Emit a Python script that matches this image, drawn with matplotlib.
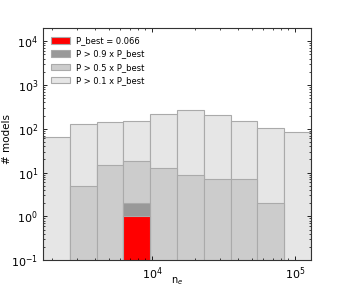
import numpy as np
import matplotlib
matplotlib.use("Agg")
import matplotlib.pyplot as plt

# bin edges in log10(n_e)
log_edges = np.linspace(3.238, 5.112, 11)

# counts per bin for each probability threshold
n_01 = [65, 130, 140, 152, 220, 263, 210, 152, 105, 85]
n_05 = [0, 5, 15, 18, 13, 9, 7, 7, 2, 0]
n_09 = [0, 0, 0, 2, 0, 0, 0, 0, 0, 0]
n_best = [0, 0, 0, 1, 0, 0, 0, 0, 0, 0]

labels = ["P_best = 0.066", "P > 0.9 x P_best", "P > 0.5 x P_best", "P > 0.1 x P_best"]

edges = 10 ** log_edges
left = edges[:-1]
width = np.diff(edges)

fig = plt.figure(figsize=(3.46, 2.89), dpi=100)
ax = fig.add_axes([0.124, 0.100, 0.775, 0.803])

bottom = 1e-3
kw = dict(align="edge", linewidth=0.8, edgecolor="#aaaaaa", bottom=bottom)
h3 = ax.bar(left, np.array(n_01) - bottom, width, color="#e6e6e6", label=labels[3], **kw)
h2 = ax.bar(left, np.array(n_05) - bottom, width, color="#cccccc", label=labels[2], **kw)
h1 = ax.bar(left, np.array(n_09) - bottom, width, color="#999999", label=labels[1], **kw)
h0 = ax.bar(left, np.array(n_best) - bottom, width, color="#ff0000", label=labels[0], **kw)

ax.set_xscale("log")
ax.set_yscale("log")
ax.set_xlim(edges[0], edges[-1])
ax.set_ylim(0.1, 2e4)

ax.tick_params(which="both", direction="in", top=True, right=True, labelsize=8)
ax.tick_params(which="major", length=3, width=0.6)
ax.tick_params(which="minor", length=1.5, width=0.5)
for s in ax.spines.values():
    s.set_linewidth(0.8)
    s.set_color("#333333")

ax.set_xlabel("n$_e$", fontsize=7)
ax.set_ylabel("# models", fontsize=7.5)
ax.xaxis.set_label_coords(0.5, -0.065)
ax.yaxis.set_label_coords(-0.115, 0.52)

leg = ax.legend([h0, h1, h2, h3], labels, loc="upper left", frameon=False,
                fontsize=6, handlelength=2.2, handleheight=0.8,
                labelspacing=0.5, borderaxespad=0.6)

fig.savefig("out.png", dpi=100)
